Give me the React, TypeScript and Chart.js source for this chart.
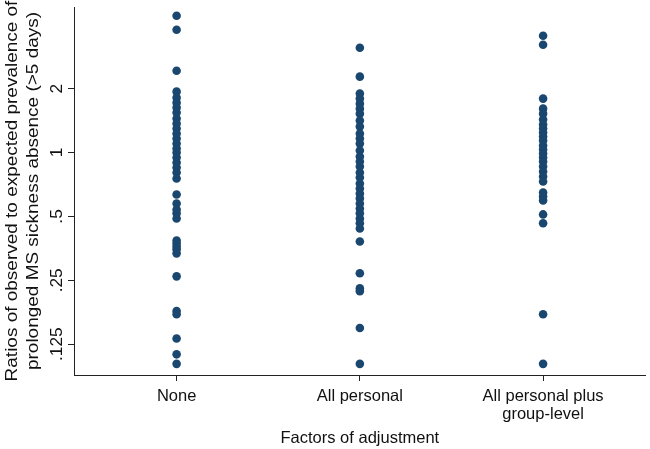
import React, { useEffect, useRef } from "react";
import { Chart, registerables } from "chart.js";

Chart.register(...registerables);

const categories: (string | string[])[] = ["None", "All personal", ["All personal plus", "group-level"]];

const noneValues = [
  4.41, 3.79, 2.43, 1.936, 1.814, 1.718, 1.628, 1.542, 1.445, 1.369, 1.297, 1.228, 1.164,
  1.102, 1.044, 1.0, 0.947, 0.897, 0.85, 0.805, 0.755, 0.634, 0.575, 0.539, 0.517, 0.489,
  0.385, 0.373, 0.361, 0.35, 0.335, 0.261, 0.179, 0.173, 0.133, 0.112, 0.101,
];

const personalValues = [
  3.118, 2.278, 1.895, 1.795, 1.7, 1.61, 1.525, 1.414, 1.325, 1.228, 1.164, 1.102, 1.022,
  0.957, 0.907, 0.859, 0.805, 0.763, 0.715, 0.677, 0.641, 0.608, 0.575, 0.545, 0.517, 0.489,
  0.464, 0.439, 0.381, 0.27, 0.229, 0.222, 0.149, 0.101,
];

const groupValues = [
  3.551, 3.221, 1.795, 1.61, 1.525, 1.43, 1.354, 1.297, 1.242, 1.189, 1.139, 1.079, 1.033,
  0.989, 0.947, 0.907, 0.859, 0.814, 0.771, 0.73, 0.648, 0.621, 0.595, 0.511, 0.464, 0.173,
  0.101,
];

const yTickValues = [0.125, 0.25, 0.5, 1, 2];
const yTickLabels = [".125", ".25", ".5", "1", "2"];
const yTitleLines = [
  "Ratios of observed to expected prevalence of",
  "prolonged MS sickness absence (>5 days)",
];
const xTitle = "Factors of adjustment";

const FONT = '"Liberation Sans", Arial, Helvetica, sans-serif';
const DOT = "#1a476f";
const INK = "#111111";
const AXIS = "#222222";
const TITLE_STRETCH = 1.15;
const TICK_STRETCH = 1.05;

const yLabelPlugin = {
  id: "yLabelPlugin",
  afterDraw(chart: any) {
    const ys = chart.scales.y;
    const ctx = chart.ctx;
    const area = chart.chartArea;
    ctx.save();
    ctx.fillStyle = INK;
    ctx.font = `16.5px ${FONT}`;
    ctx.textAlign = "center";
    ctx.textBaseline = "alphabetic";
    yTickValues.forEach((v, i) => {
      const py = ys.getPixelForValue(v);
      ctx.save();
      ctx.translate(ys.right - 12, py);
      ctx.rotate(-Math.PI / 2);
      ctx.scale(TICK_STRETCH, 1);
      ctx.fillText(yTickLabels[i], 0, 0);
      ctx.restore();
    });
    const cy = (area.top + area.bottom) / 2;
    const baselines = [ys.left + 17, ys.left + 38];
    yTitleLines.forEach((line, i) => {
      ctx.save();
      ctx.translate(baselines[i], cy);
      ctx.rotate(-Math.PI / 2);
      ctx.scale(TITLE_STRETCH, 1);
      ctx.fillText(line, 0, 0);
      ctx.restore();
    });
    ctx.restore();
  },
};

export default function App() {
  const ref = useRef<HTMLCanvasElement | null>(null);

  useEffect(() => {
    if (!ref.current) return;
    const toPoints = (vals: number[], idx: number) => vals.map((v) => ({ x: idx + 1, y: v }));
    const chart = new Chart(ref.current, {
      type: "scatter",
      data: {
        datasets: [
          { data: toPoints(noneValues, 0) },
          { data: toPoints(personalValues, 1) },
          { data: toPoints(groupValues, 2) },
        ].map((d) => ({
          ...d,
          backgroundColor: DOT,
          borderColor: DOT,
          borderWidth: 0,
          pointRadius: 4.3,
          pointHoverRadius: 4.3,
        })),
      },
      options: {
        responsive: false,
        animation: false,
        layout: { padding: { top: 7, right: 0, left: 0, bottom: 0 } },
        plugins: {
          legend: { display: false },
          tooltip: { enabled: false },
        },
        scales: {
          x: {
            type: "linear",
            bounds: "data",
            min: 0.44,
            max: 3.56,
            afterBuildTicks: (s: any) => {
              s.ticks = categories.map((_, i) => ({ value: i + 1 }));
            },
            afterFit: (s: any) => {
              s.height = 74;
            },
            ticks: {
              autoSkip: false,
              maxRotation: 0,
              minRotation: 0,
              padding: 7,
              color: INK,
              font: { family: FONT, size: 16.5, lineHeight: 1.05 },
              callback: (v: any) => categories[Math.round(Number(v)) - 1] as any,
            },
            grid: {
              display: true,
              drawOnChartArea: false,
              drawTicks: true,
              tickLength: 6,
              color: AXIS,
              lineWidth: 1,
            },
            border: { display: true, color: AXIS, width: 1 },
            title: {
              display: true,
              text: xTitle,
              color: INK,
              font: { family: FONT, size: 16.5, lineHeight: 1.2 },
              padding: { top: 0, bottom: 1 },
            },
          },
          y: {
            type: "logarithmic",
            bounds: "data",
            min: 0.0895,
            max: 4.85,
            afterBuildTicks: (s: any) => {
              s.ticks = yTickValues.map((v) => ({ value: v }));
            },
            afterFit: (s: any) => {
              s.width = 74;
            },
            ticks: { display: false },
            grid: {
              display: true,
              drawOnChartArea: false,
              drawTicks: true,
              tickLength: 6,
              color: AXIS,
              lineWidth: 1,
            },
            border: { display: true, color: AXIS, width: 1 },
            title: { display: false },
          },
        },
      },
      plugins: [yLabelPlugin],
    } as any);
    return () => chart.destroy();
  }, []);

  return (
    <div style={{ position: "fixed", left: 0, top: 0, width: 650, height: 449, background: "#fff" }}>
      <canvas ref={ref} width={650} height={449} style={{ display: "block" }} />
    </div>
  );
}
